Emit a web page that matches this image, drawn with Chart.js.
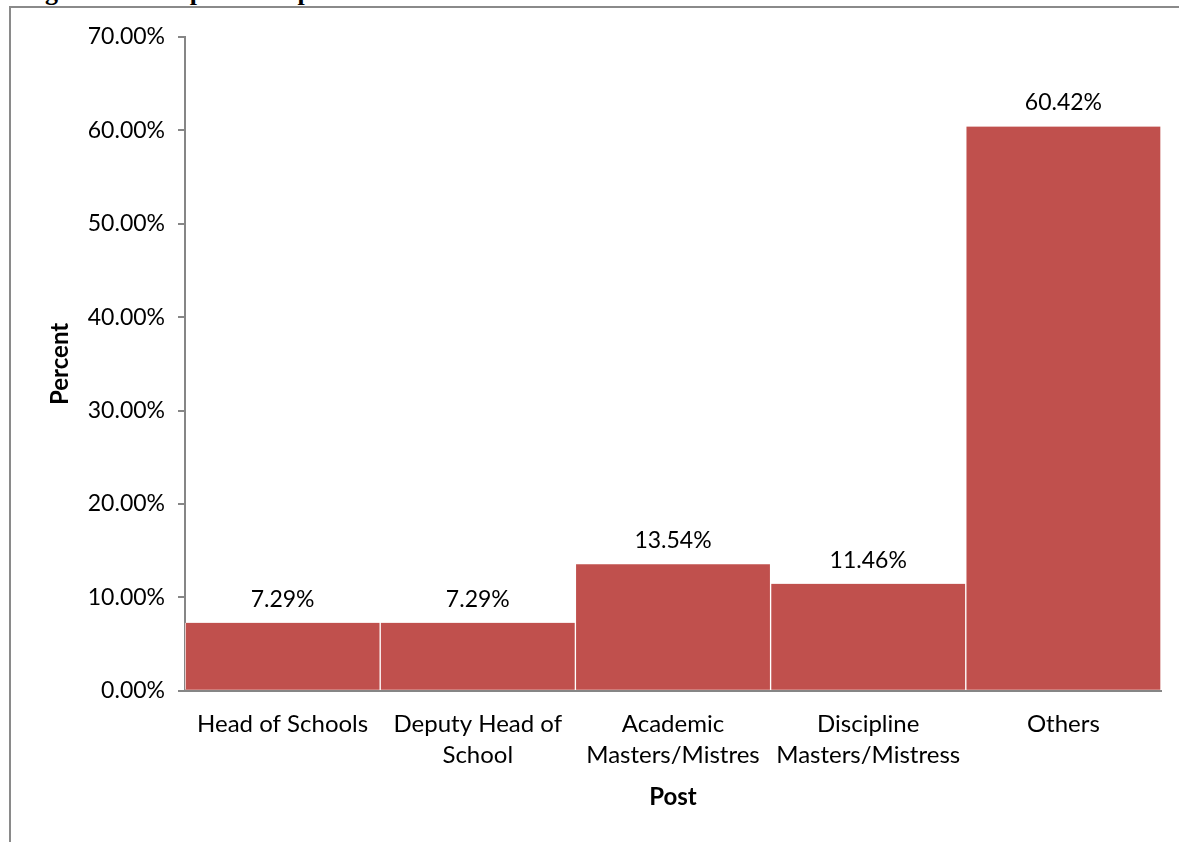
<!DOCTYPE html>
<html lang="en">
  <head>
    <meta charset="UTF-8" />
    <title>Post</title>
    <script src="https://cdn.jsdelivr.net/npm/chart.js@4.4.1/dist/chart.umd.min.js"></script>
    <style>
      html, body { margin: 0; padding: 0; background: #ffffff; overflow: hidden; }
      .frame {
        position: absolute; left: 9px; top: 6px; width: 1179px; height: 842px;
        border-left: 2px solid #8a8a8a; border-top: 2px solid #8a8a8a;
      }
      .caption {
        position: absolute; left: 22px; top: -23px; margin: 0;
        font-family: "Liberation Serif", serif; font-weight: bold; font-size: 26px;
        white-space: nowrap;
      }
      .chart-box { position: absolute; left: 12px; top: 8px; width: 1167px; height: 834px; }
    </style>
  </head>
  <body>
    <p class="caption">Figure 4.2: Respondents post</p>
    <div class="frame"></div>
    <div class="chart-box"><canvas id="postChart"></canvas></div>

    <script>
      const categories = [
        "Head of Schools",
        ["Deputy Head of", "School"],
        ["Academic", "Masters/Mistres"],
        ["Discipline", "Masters/Mistress"],
        "Others",
      ];
      const percents = [7.29, 7.29, 13.54, 11.46, 60.42];
      const yTicks = [0, 10, 20, 30, 40, 50, 60, 70];

      const fontFamily = "Lato, 'Liberation Sans', sans-serif";
      const axisGray = "#868686";

      // draw value labels above each bar
      const valueLabels = {
        id: "valueLabels",
        afterDatasetsDraw(chart) {
          const ctx = chart.ctx;
          const meta = chart.getDatasetMeta(0);
          ctx.save();
          ctx.font = "23px " + fontFamily;
          ctx.fillStyle = "#000";
          ctx.textAlign = "center";
          ctx.textBaseline = "bottom";
          meta.data.forEach((bar, i) => {
            ctx.fillText(percents[i].toFixed(2) + "%", bar.x, bar.y - 12);
          });
          ctx.restore();
        },
      };

      const ctx = document.getElementById("postChart").getContext("2d");
      new Chart(ctx, {
        type: "bar",
        data: {
          labels: categories,
          datasets: [
            {
              data: percents,
              backgroundColor: "#C0504D",
              borderColor: "#ffffff",
              borderWidth: { left: 1, right: 1, top: 0, bottom: 0 },
              barPercentage: 1,
              categoryPercentage: 1,
            },
          ],
        },
        options: {
          responsive: true,
          maintainAspectRatio: false,
          animation: false,
          layout: { padding: { left: 30, right: 18, top: 29, bottom: 30 } },
          plugins: { legend: { display: false }, tooltip: { enabled: false } },
          scales: {
            x: {
              grid: { display: false, drawTicks: false },
              border: { color: axisGray, width: 2 },
              ticks: {
                color: "#000",
                font: { family: fontFamily, size: 24, lineHeight: 1.3 },
                padding: 18,
                maxRotation: 0,
                autoSkip: false,
              },
              title: {
                display: true,
                text: "Post",
                color: "#000",
                font: { family: fontFamily, size: 24, weight: "bold" },
                padding: { top: -6, bottom: 0 },
              },
            },
            y: {
              min: 0,
              max: 70,
              afterBuildTicks: (scale) => { scale.ticks = yTicks.map((v) => ({ value: v })); },
              afterFit: (scale) => { scale.width = 143; },
              grid: { drawOnChartArea: false, tickLength: 7, color: axisGray, lineWidth: 2 },
              border: { color: axisGray, width: 2 },
              ticks: {
                color: "#000",
                font: { family: fontFamily, size: 23 },
                padding: 13,
                callback: (v) => v.toFixed(2) + "%",
              },
              title: {
                display: true,
                text: "Percent",
                color: "#000",
                font: { family: fontFamily, size: 24, weight: "bold" },
                padding: 4,
              },
            },
          },
        },
        plugins: [valueLabels],
      });
    </script>
  </body>
</html>
